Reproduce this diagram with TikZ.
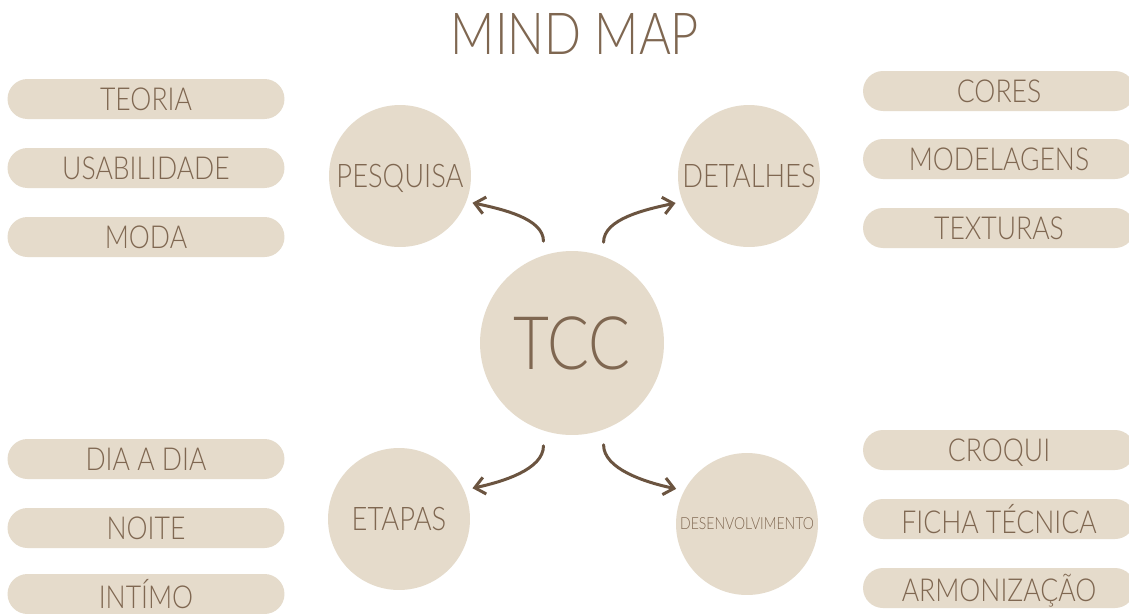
\documentclass[tikz,border=0pt]{standalone}
\usepackage{fontspec}
\setmainfont{Lato Light}[FakeStretch=0.84]
\usetikzlibrary{arrows.meta}
\definecolor{sand}{HTML}{E5DBCB}
\definecolor{cocoa}{HTML}{7F6751}
\definecolor{bark}{HTML}{6B5440}

\begin{document}
\begin{tikzpicture}[x=0.02cm, y=0.02cm,
    pill/.style={fill=sand, rounded corners=0.4cm, minimum width=5.54cm,
      minimum height=0.8cm, inner sep=0pt, text=cocoa, text depth=0pt,
      font=\fontsize{18}{20}\selectfont},
    bubble/.style={circle, fill=sand, minimum size=2.84cm, inner sep=0pt,
      text=cocoa, text depth=0pt, font=\fontsize{18.5}{20}\selectfont},
    link/.style={draw=bark, line width=0.06cm, line cap=round,
      -{Straight Barb[length=0.2cm,width=0.34cm,line width=0.06cm]}}]
    \useasboundingbox (0,0) rectangle (1129,-613);%
    \clip (0,0) rectangle (1129,-613);%
    \fill[white] (0,0) rectangle (1129,-613);%

    % Title
    \node[text=cocoa, font=\fontsize{33}{35}\selectfont] (title) at (575,-34) {MIND MAP};%

    % Marking central circle
    \node[bubble, minimum size=3.68cm, font=\fontsize{42}{44}\selectfont] (tcc) at (572,-343) {TCC};%

    % Marking the four branch circles
    \node[bubble] (pesq) at (400,-176) {PESQUISA};%
    \node[bubble] (detal) at (749,-176) {DETALHES};%
    \node[bubble] (etap) at (399,-519) {ETAPAS};%
    \node[bubble, font=\fontsize{9.5}{11}\selectfont] (desenv) at (747,-524) {DESENVOLVIMENTO};%

    % Drawing arrows from TCC
    \draw[link, shorten <=0.28cm, shorten >=0.12cm] (tcc.108) to[out=90, in=-12] (pesq.-21);%
    \draw[link, shorten <=0.28cm, shorten >=0.14cm] (tcc.70) to[out=90, in=-168] (detal.-159);%
    \draw[link, shorten <=0.30cm, shorten >=0.17cm] (tcc.-108) to[out=-90, in=12] (etap.24);%
    \draw[link, shorten <=0.30cm, shorten >=0.16cm] (tcc.-70) to[out=-90, in=168] (desenv.152);%

    % Pills on the left
    \node[pill] (teoria) at (146,-99) {TEORIA};%
    \node[pill] (usab) at (146,-168) {USABILIDADE};%
    \node[pill] (moda) at (146,-237) {MODA};%
    \node[pill] (dia) at (146,-459) {DIA A DIA};%
    \node[pill] (noite) at (146,-528) {NOITE};%
    \node[pill] (intimo) at (146,-594) {INTÍMO};%

    % Pills on the right
    \node[pill, minimum width=5.44cm] (cores) at (999,-91) {CORES};%
    \node[pill, minimum width=5.44cm] (model) at (999,-159) {MODELAGENS};%
    \node[pill, minimum width=5.44cm] (text) at (999,-228) {TEXTURAS};%
    \node[pill, minimum width=5.44cm] (croqui) at (999,-450) {CROQUI};%
    \node[pill, minimum width=5.44cm] (ficha) at (999,-519) {FICHA TÉCNICA};%
    \node[pill, minimum width=5.44cm] (armon) at (999,-588) {ARMONIZAÇÃO};%
\end{tikzpicture}
\end{document}
